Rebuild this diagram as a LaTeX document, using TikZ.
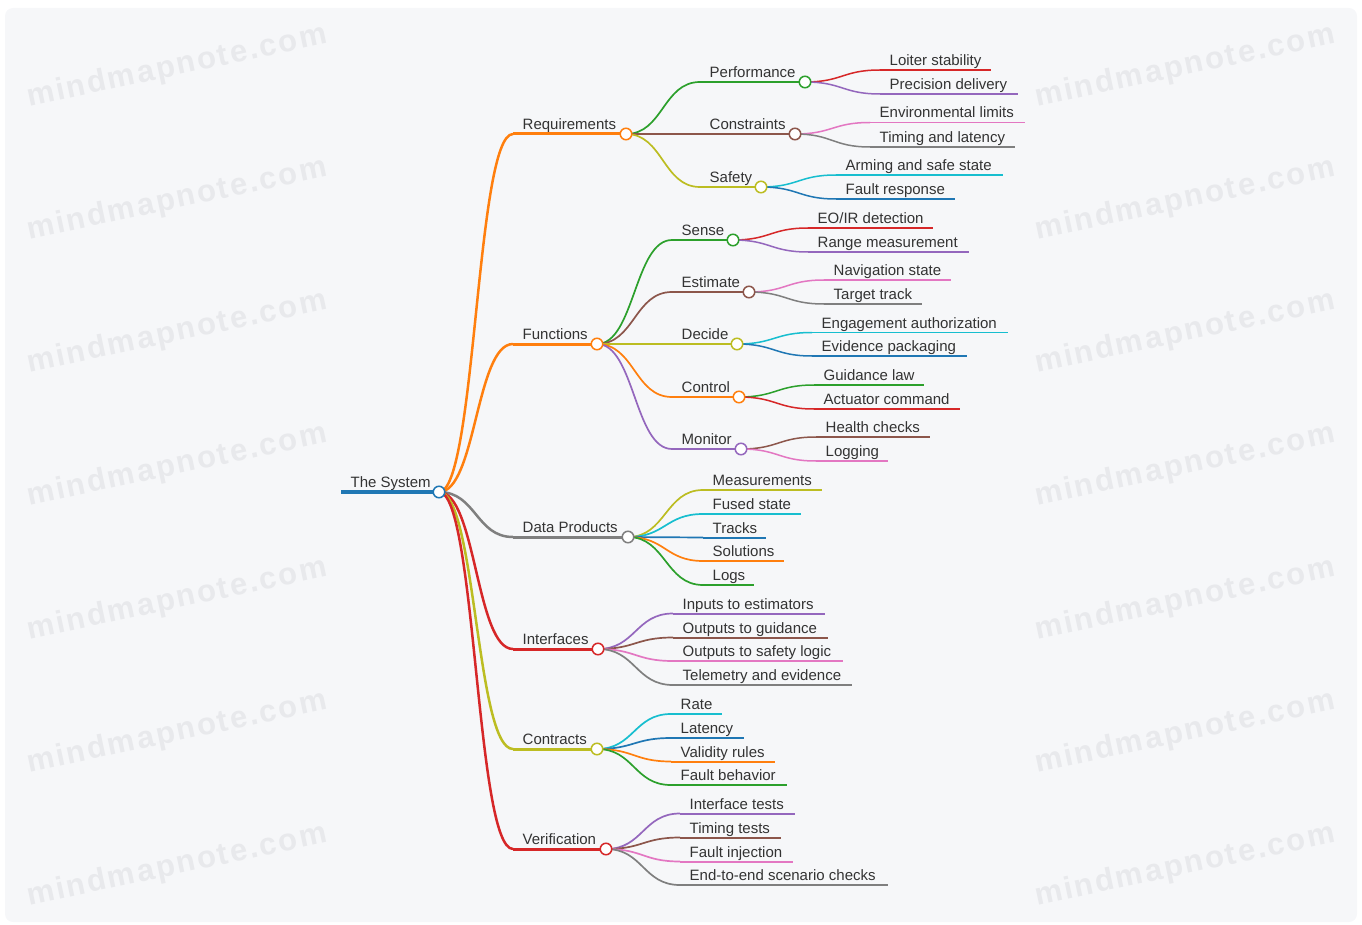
\documentclass[tikz,border=0pt]{standalone}
\usepackage{fontspec}
\setmainfont{Liberation Sans}
\newfontfamily\wmfont{Liberation Sans}[LetterSpace=7]
\usetikzlibrary{calc}

\definecolor{cblue}{HTML}{1F77B4}
\definecolor{corange}{HTML}{FF7F0E}
\definecolor{cgreen}{HTML}{2CA02C}
\definecolor{cred}{HTML}{D62728}
\definecolor{cpurple}{HTML}{9467BD}
\definecolor{cbrown}{HTML}{8C564B}
\definecolor{cpink}{HTML}{E377C2}
\definecolor{cgray}{HTML}{7F7F7F}
\definecolor{colive}{HTML}{BCBD22}
\definecolor{ccyan}{HTML}{17BECF}
\definecolor{panel}{HTML}{F6F7F9}
\definecolor{wmgray}{HTML}{E8E9EC}
\definecolor{ink}{HTML}{333333}

\tikzset{
  lbl/.style={inner sep=0pt, anchor=base west, text=ink,
    font=\fontsize{15}{18}\selectfont},
  wm/.style={inner sep=0pt, text=wmgray, rotate=12,
    font=\wmfont\bfseries\fontsize{31}{33}\selectfont},
  knob/.style={circle, draw=#1, fill=white, line width=1.5pt,
    minimum size=11.5pt, inner sep=0pt},
  w0/.style={line width=4pt},
  w1/.style={line width=3pt},
  w2/.style={line width=2pt},
  w3/.style={line width=1.7pt},
  l1/.style={line width=2.5pt},
  l2/.style={line width=1.7pt},
  l3/.style={line width=1.5pt},
}

% topic: name, start x, end x, y, text, colour, underline style
\newcommand\topic[7]{%
  \coordinate (#1-s) at (#2,#4);
  \coordinate (#1) at (#3,#4);
  \node[lbl] (#1-t) at ({#2+9.5},{#4-4.5}) {#5};
  \draw[#6, #7] (#1-s) -- (#1);
}
% branch curve from a parent knob to a child's underline start
\newcommand\branch[4]{%
  \draw[#3, #4] let \p1=(#1), \p2=(#2-s) in
    (\p1) .. controls ({0.5*\x1+0.5*\x2},\y1) and ({0.5*\x1+0.5*\x2},\y2) .. (\p2);
}
% knob at the end of a topic that has children
\newcommand\knob[2]{\node[knob=#2] (#1-k) at (#1) {};}

\begin{document}
\begin{tikzpicture}[x=1pt, y=-1pt]
\useasboundingbox (0,0) rectangle (1362,925);
\fill[panel, rounded corners=8pt] (5,8) rectangle (1357,922);

% watermark
\foreach \i/\yy in {1/67,2/200,3/333,4/466,5/600,6/733,7/866}{
  \node[wm] (wmL\i) at (177,\yy) {mindmapnote.com};
  \node[wm] (wmR\i) at (1185,\yy) {mindmapnote.com};
}

% root
\topic{root}{341}{439}{492}{The System}{cblue}{w0}

% first level
\topic{req}{513}{626}{134}{Requirements}{corange}{w1}
\topic{fun}{513}{597}{344}{Functions}{corange}{w1}
\topic{dat}{513}{628}{537}{Data Products}{cgray}{w1}
\topic{itf}{513}{598}{649}{Interfaces}{cred}{w1}
\topic{con}{513}{597}{749}{Contracts}{colive}{w1}
\topic{ver}{513}{606}{849}{Verification}{cred}{w1}

% Requirements
\topic{perf}{700}{805}{82}{Performance}{cgreen}{w2}
\topic{cons}{700}{795}{134}{Constraints}{cbrown}{w2}
\topic{safe}{700}{761}{187}{Safety}{colive}{w2}
\topic{loit}{880}{991}{70}{Loiter stability}{cred}{w3}
\topic{prec}{880}{1018}{94}{Precision delivery}{cpurple}{w3}
\topic{envl}{870}{1025}{122.5}{Environmental limits}{cpink}{w3}
\topic{tila}{870}{1015}{147}{Timing and latency}{cgray}{w3}
\topic{arms}{836}{1003}{175}{Arming and safe state}{ccyan}{w3}
\topic{faur}{836}{955}{199}{Fault response}{cblue}{w3}

% Functions
\topic{sens}{672}{733}{240}{Sense}{cgreen}{w2}
\topic{esti}{672}{749}{292}{Estimate}{cbrown}{w2}
\topic{deci}{672}{737}{344}{Decide}{colive}{w2}
\topic{ctrl}{672}{739}{397}{Control}{corange}{w2}
\topic{moni}{672}{741}{449}{Monitor}{cpurple}{w2}
\topic{eoir}{808}{933}{228}{EO/IR detection}{cred}{w3}
\topic{rang}{808}{969}{252}{Range measurement}{cpurple}{w3}
\topic{navs}{824}{951}{280}{Navigation state}{cpink}{w3}
\topic{tgtt}{824}{922}{304}{Target track}{cgray}{w3}
\topic{enga}{812}{1008}{332.5}{Engagement authorization}{ccyan}{w3}
\topic{evid}{812}{967}{356}{Evidence packaging}{cblue}{w3}
\topic{guid}{814}{924}{385}{Guidance law}{cgreen}{w3}
\topic{actu}{814}{960}{409}{Actuator command}{cred}{w3}
\topic{hlth}{816}{930}{437}{Health checks}{cbrown}{w3}
\topic{logg}{816}{888}{461}{Logging}{cpink}{w3}

% Data Products
\topic{meas}{703}{822}{490}{Measurements}{colive}{w2}
\topic{fuse}{703}{801}{514}{Fused state}{ccyan}{w2}
\topic{trks}{703}{766}{537.5}{Tracks}{cblue}{w2}
\topic{solu}{703}{784}{561}{Solutions}{corange}{w2}
\topic{logs}{703}{754}{585}{Logs}{cgreen}{w2}

% Interfaces
\topic{inpe}{673}{825}{613.5}{Inputs to estimators}{cpurple}{w2}
\topic{outg}{673}{828}{637.5}{Outputs to guidance}{cbrown}{w2}
\topic{outs}{673}{843}{661}{Outputs to safety logic}{cpink}{w2}
\topic{tele}{673}{852}{685}{Telemetry and evidence}{cgray}{w2}

% Contracts
\topic{rate}{671}{722}{714}{Rate}{ccyan}{w2}
\topic{late}{671}{744}{738}{Latency}{cblue}{w2}
\topic{vali}{671}{775}{761.5}{Validity rules}{corange}{w2}
\topic{faub}{671}{787}{785}{Fault behavior}{cgreen}{w2}

% Verification
\topic{itst}{680}{795}{813.5}{Interface tests}{cpurple}{w2}
\topic{tmts}{680}{781}{837.5}{Timing tests}{cbrown}{w2}
\topic{finj}{680}{793}{861.5}{Fault injection}{cpink}{w2}
\topic{e2e}{680}{888}{885}{End-to-end scenario checks}{cgray}{w2}

% branches
\branch{root}{req}{corange}{l1}
\branch{root}{fun}{corange}{l1}
\branch{root}{dat}{cgray}{l1}
\branch{root}{itf}{cred}{l1}
\branch{root}{con}{colive}{l1}
\branch{root}{ver}{cred}{l1}

\branch{req}{perf}{cgreen}{l2}
\branch{req}{cons}{cbrown}{l2}
\branch{req}{safe}{colive}{l2}
\branch{perf}{loit}{cred}{l3}
\branch{perf}{prec}{cpurple}{l3}
\branch{cons}{envl}{cpink}{l3}
\branch{cons}{tila}{cgray}{l3}
\branch{safe}{arms}{ccyan}{l3}
\branch{safe}{faur}{cblue}{l3}

\branch{fun}{sens}{cgreen}{l2}
\branch{fun}{esti}{cbrown}{l2}
\branch{fun}{deci}{colive}{l2}
\branch{fun}{ctrl}{corange}{l2}
\branch{fun}{moni}{cpurple}{l2}
\branch{sens}{eoir}{cred}{l3}
\branch{sens}{rang}{cpurple}{l3}
\branch{esti}{navs}{cpink}{l3}
\branch{esti}{tgtt}{cgray}{l3}
\branch{deci}{enga}{ccyan}{l3}
\branch{deci}{evid}{cblue}{l3}
\branch{ctrl}{guid}{cgreen}{l3}
\branch{ctrl}{actu}{cred}{l3}
\branch{moni}{hlth}{cbrown}{l3}
\branch{moni}{logg}{cpink}{l3}

\branch{dat}{meas}{colive}{l2}
\branch{dat}{fuse}{ccyan}{l2}
\branch{dat}{trks}{cblue}{l2}
\branch{dat}{solu}{corange}{l2}
\branch{dat}{logs}{cgreen}{l2}

\branch{itf}{inpe}{cpurple}{l2}
\branch{itf}{outg}{cbrown}{l2}
\branch{itf}{outs}{cpink}{l2}
\branch{itf}{tele}{cgray}{l2}

\branch{con}{rate}{ccyan}{l2}
\branch{con}{late}{cblue}{l2}
\branch{con}{vali}{corange}{l2}
\branch{con}{faub}{cgreen}{l2}

\branch{ver}{itst}{cpurple}{l2}
\branch{ver}{tmts}{cbrown}{l2}
\branch{ver}{finj}{cpink}{l2}
\branch{ver}{e2e}{cgray}{l2}

% knobs on every topic with children
\knob{root}{cblue}
\knob{req}{corange}
\knob{fun}{corange}
\knob{dat}{cgray}
\knob{itf}{cred}
\knob{con}{colive}
\knob{ver}{cred}
\knob{perf}{cgreen}
\knob{cons}{cbrown}
\knob{safe}{colive}
\knob{sens}{cgreen}
\knob{esti}{cbrown}
\knob{deci}{colive}
\knob{ctrl}{corange}
\knob{moni}{cpurple}
\end{tikzpicture}
\end{document}
